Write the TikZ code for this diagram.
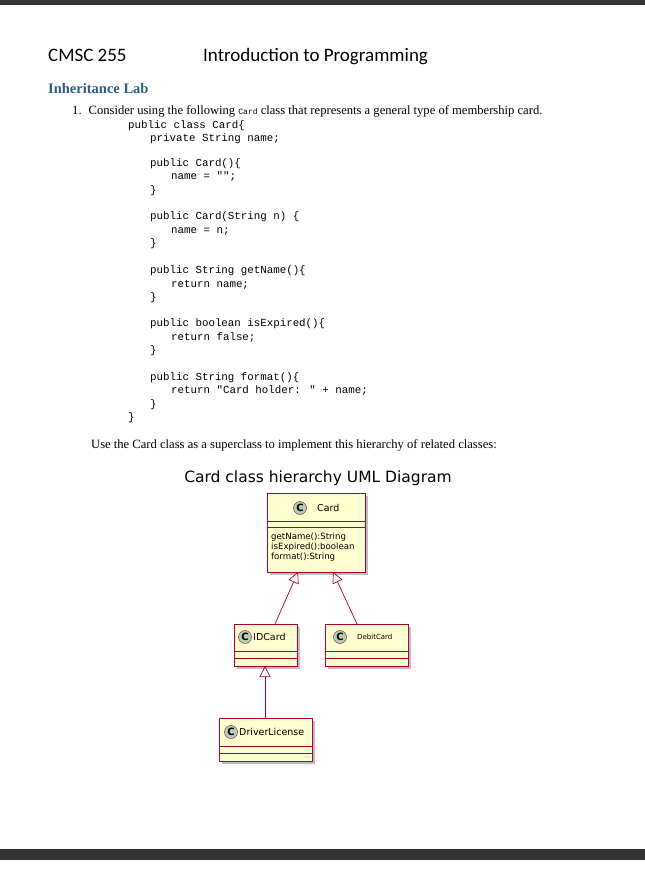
\documentclass[tikz,border=0pt]{standalone}
\usepackage{fontspec}
\setmainfont{Liberation Serif}
\newfontfamily\codef{Liberation Mono}
\newfontfamily\umlf{DejaVu Sans}
\newfontfamily\hdf{Carlito}
\usetikzlibrary{arrows.meta}
\definecolor{umlfill}{HTML}{FEFECE}
\definecolor{umlline}{HTML}{A80036}
\definecolor{circ}{HTML}{ADD1B2}
\definecolor{blu}{HTML}{2E5C8A}
\begin{document}
\begin{tikzpicture}[x=1pt,y=-1pt,
 code/.style={anchor=base west,inner sep=0,font=\codef\fontsize{10.8}{10.8}\selectfont},
 txt/.style={anchor=base west,inner sep=0,font=\fontsize{12.6}{12.6}\selectfont},
 box/.style={draw=umlline,fill=umlfill,line width=0.8pt},
 cc/.style={circle,draw=umlline,fill=circ,minimum size=13pt,inner sep=0,font=\umlf\bfseries\fontsize{10}{10}\selectfont},
 lbl/.style={anchor=west,inner sep=0,font=\umlf\fontsize{9.5}{9.5}\selectfont},
 inh/.style={draw=umlline,line width=0.7pt,-{Triangle[open,length=11pt,width=11pt,fill=white]}}]
\useasboundingbox (0,0) rectangle (645,879);
\fill[white] (0,0) rectangle (645,879);
\fill[black!80] (0,0) rectangle (645,5);
\fill[black!80] (0,849) rectangle (645,860);
\node[anchor=base west,inner sep=0,font=\hdf\fontsize{19}{19}\selectfont] (h1) at (48,61) {CMSC 255};
\node[anchor=base west,inner sep=0,font=\hdf\fontsize{19}{19}\selectfont] (h2) at (203,61) {Introduction to Programming};
\node[anchor=base west,inner sep=0,font=\bfseries\fontsize{14.5}{14.5}\selectfont,text=blu] (h3) at (48,93) {Inheritance Lab};
\node[txt] (t1) at (72,114) {1.\hspace{7pt}Consider using the following {\codef\fontsize{8}{8}\selectfont Card} class that represents a general type of membership card.};
\node[code] at (128,128) {public class Card\{};
\node[code] at (150,141) {private String name;};
\node[code] at (150,166) {public Card()\{};
\node[code] at (171,179) {name = "";};
\node[code] at (150,193) {\}};
\node[code] at (150,219) {public Card(String n) \{};
\node[code] at (171,233) {name = n;};
\node[code] at (150,246) {\}};
\node[code] at (150,273) {public String getName()\{};
\node[code] at (171,287) {return name;};
\node[code] at (150,300) {\}};
\node[code] at (150,326) {public boolean isExpired()\{};
\node[code] at (171,340) {return false;};
\node[code] at (150,353) {\}};
\node[code] at (150,380) {public String format()\{};
\node[code] at (171,393) {return "Card holder: " + name;};
\node[code] at (150,407) {\}};
\node[code] at (128,420) {\}};
\node[txt] (t2) at (91,448) {Use the Card class as a superclass to implement this hierarchy of related classes:};
\node[inner sep=0,font=\umlf\fontsize{15.5}{15.5}\selectfont] (title) at (318,478) {Card class hierarchy UML Diagram};
% shadows
\foreach \a/\b/\c/\d in {267/493/365/572,234/624/297/666,325/624/408/666,219/718/312/761}
 \fill[black!25] (\a+3,\b+3) rectangle (\c+3,\d+3);
% Card
\draw[box] (267,493) rectangle (365,572);
\draw[umlline,line width=0.8pt] (267,521)--(365,521) (267,527)--(365,527);
\node[cc] (c1) at (300,508) {C};
\node[lbl] (n1) at (317,508) {Card};
\node[anchor=north west,inner sep=0,align=left,font=\umlf\fontsize{8.6}{10}\selectfont] (m1) at (271,533) {getName():String\\isExpired():boolean\\format():String};
% IDCard
\draw[box] (234,624) rectangle (297,666);
\draw[umlline,line width=0.8pt] (234,651)--(297,651) (234,658)--(297,658);
\node[cc] (c2) at (245,637) {C};
\node[lbl] (n2) at (253,637) {IDCard};
% DebitCard
\draw[box] (325,624) rectangle (408,666);
\draw[umlline,line width=0.8pt] (325,651)--(408,651) (325,658)--(408,658);
\node[cc] (c3) at (340,637) {C};
\node[lbl,font=\umlf\fontsize{7}{7}\selectfont] (n3) at (357,637) {DebitCard};
% DriverLicense
\draw[box] (219,718) rectangle (312,761);
\draw[umlline,line width=0.8pt] (219,746)--(312,746) (219,753)--(312,753);
\node[cc] (c4) at (231,732) {C};
\node[lbl] (n4) at (239,732) {DriverLicense};
% connectors
\coordinate (a1) at (275,624); \coordinate (a2) at (298,572);
\coordinate (b1) at (357,624); \coordinate (b2) at (333,572);
\coordinate (d1) at (265,718); \coordinate (d2) at (265,666);
\draw[inh] (a1) -- (a2);
\draw[inh] (b1) -- (b2);
\draw[inh] (d1) -- (d2);
\end{tikzpicture}
\end{document}
